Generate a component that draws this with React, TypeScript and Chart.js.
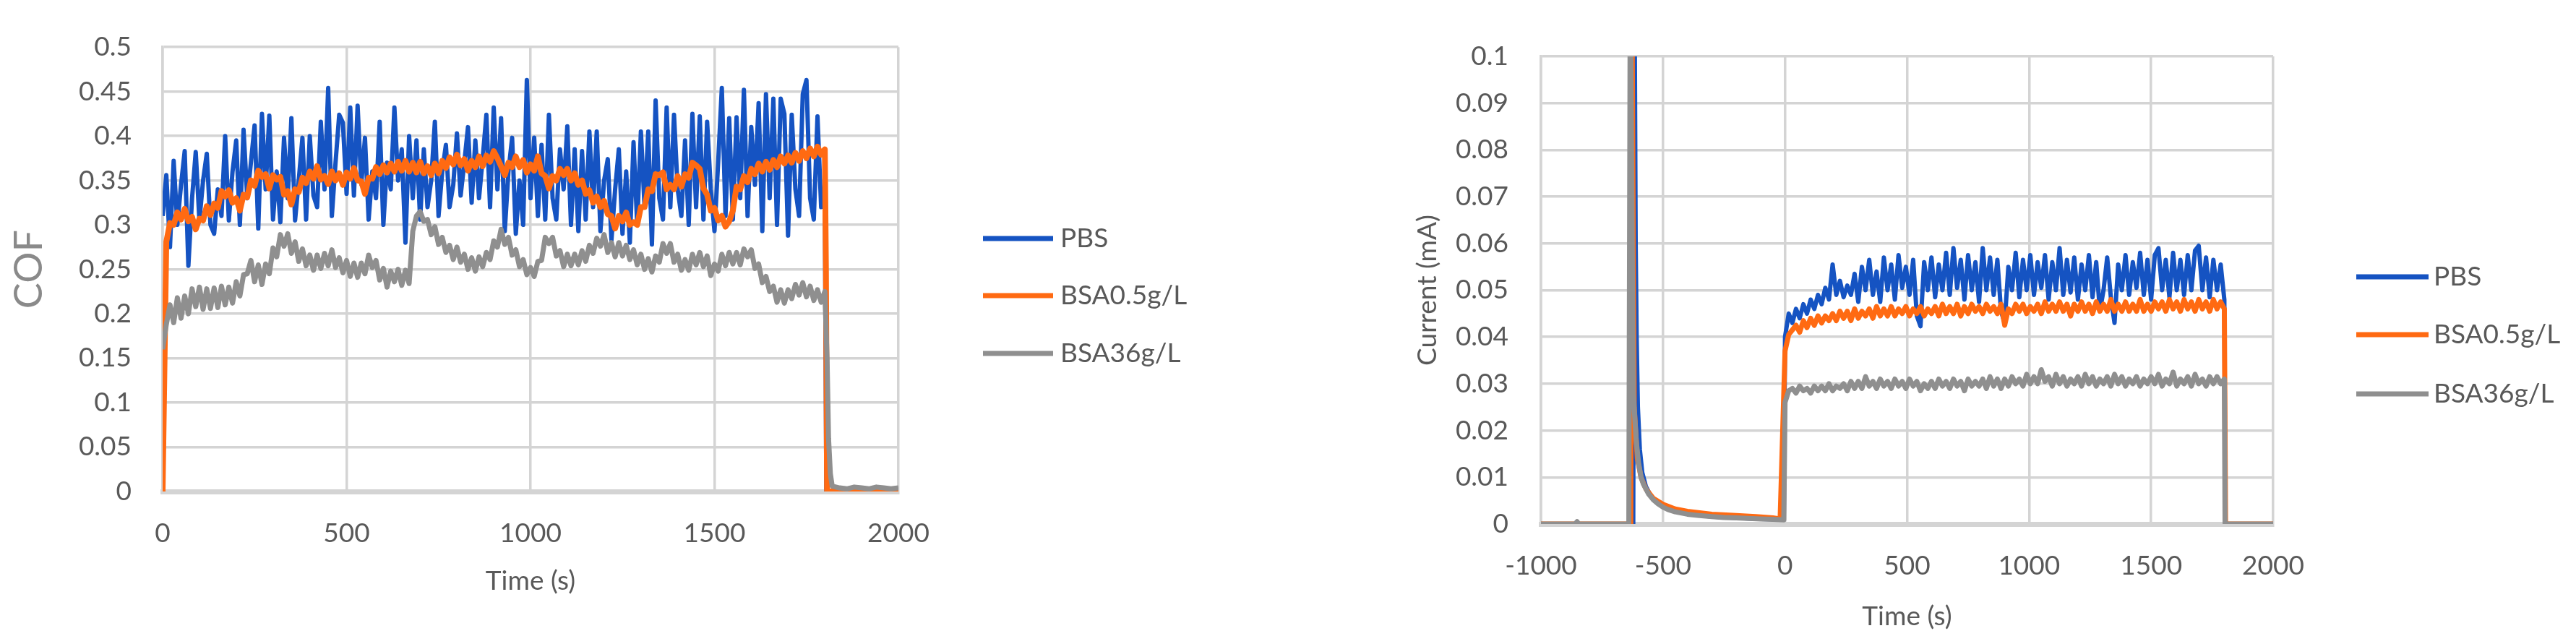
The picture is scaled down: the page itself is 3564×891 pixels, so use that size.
import React, { useEffect, useRef } from 'react';
import { Chart, registerables } from 'chart.js';

Chart.register(...registerables);

// ---------- shared ----------
const SERIES_LABELS = ['PBS', 'BSA0.5g/L', 'BSA36g/L'];
const SERIES_COLORS = ['#1553c2', '#ff6a12', '#8f8f8f'];

// ---------- left chart: COF vs time ----------
const COF_START = 0;
const COF_STEP = 10; // seconds between samples
const COF_X_TICKS = [0, 500, 1000, 1500, 2000];
const COF_X_LABELS = ['0', '500', '1000', '1500', '2000'];
const COF_Y_TICKS = [0, 0.05, 0.1, 0.15, 0.2, 0.25, 0.3, 0.35, 0.4, 0.45, 0.5];
const COF_Y_LABELS = ['0', '0.05', '0.1', '0.15', '0.2', '0.25', '0.3', '0.35', '0.4', '0.45', '0.5'];

const PBS_COF = [
  0.310, 0.356, 0.275, 0.372, 0.300, 0.345, 0.383, 0.254, 0.330, 0.382,
  0.305, 0.350, 0.380, 0.300, 0.290, 0.340, 0.310, 0.400, 0.305, 0.360,
  0.395, 0.300, 0.407, 0.330, 0.370, 0.412, 0.296, 0.425, 0.340, 0.423,
  0.306, 0.360, 0.303, 0.398, 0.330, 0.420, 0.305, 0.350, 0.398, 0.306,
  0.400, 0.333, 0.320, 0.416, 0.340, 0.454, 0.310, 0.370, 0.424, 0.415,
  0.335, 0.432, 0.333, 0.434, 0.346, 0.398, 0.306, 0.360, 0.330, 0.416,
  0.300, 0.370, 0.340, 0.432, 0.350, 0.385, 0.280, 0.400, 0.330, 0.395,
  0.306, 0.385, 0.320, 0.350, 0.416, 0.310, 0.360, 0.390, 0.320, 0.345,
  0.403, 0.333, 0.370, 0.410, 0.325, 0.395, 0.330, 0.375, 0.424, 0.320,
  0.432, 0.340, 0.420, 0.293, 0.360, 0.398, 0.290, 0.350, 0.300, 0.463,
  0.330, 0.398, 0.310, 0.390, 0.306, 0.424, 0.330, 0.306, 0.385, 0.340,
  0.411, 0.300, 0.385, 0.293, 0.383, 0.306, 0.405, 0.320, 0.405, 0.293,
  0.350, 0.374, 0.283, 0.340, 0.385, 0.290, 0.360, 0.280, 0.393, 0.300,
  0.405, 0.320, 0.405, 0.278, 0.440, 0.330, 0.306, 0.432, 0.320, 0.424,
  0.340, 0.310, 0.395, 0.300, 0.425, 0.320, 0.422, 0.306, 0.416, 0.340,
  0.293, 0.370, 0.454, 0.310, 0.420, 0.306, 0.421, 0.330, 0.452, 0.310,
  0.410, 0.345, 0.437, 0.293, 0.447, 0.330, 0.442, 0.300, 0.442, 0.425,
  0.288, 0.424, 0.340, 0.310, 0.447, 0.463, 0.330, 0.306, 0.422, 0.320,
  0.330,
];
const PBS_COF_TAIL_T = [1804, 2000];
const PBS_COF_TAIL = [0, 0];

const BSA05_COF = [
  0, 0.281, 0.302, 0.300, 0.314, 0.306, 0.318, 0.304, 0.309, 0.295,
  0.307, 0.305, 0.321, 0.311, 0.324, 0.319, 0.338, 0.332, 0.339, 0.325,
  0.330, 0.316, 0.334, 0.331, 0.350, 0.344, 0.361, 0.354, 0.357, 0.341,
  0.356, 0.351, 0.354, 0.334, 0.338, 0.323, 0.340, 0.337, 0.353, 0.347,
  0.360, 0.352, 0.366, 0.351, 0.355, 0.346, 0.360, 0.350, 0.358, 0.345,
  0.359, 0.352, 0.364, 0.350, 0.349, 0.335, 0.353, 0.352, 0.365, 0.357,
  0.367, 0.359, 0.369, 0.360, 0.371, 0.361, 0.372, 0.360, 0.370, 0.359,
  0.371, 0.358, 0.366, 0.356, 0.369, 0.358, 0.372, 0.364, 0.376, 0.368,
  0.379, 0.367, 0.374, 0.361, 0.372, 0.365, 0.377, 0.366, 0.378, 0.371,
  0.383, 0.375, 0.366, 0.356, 0.370, 0.365, 0.377, 0.365, 0.373, 0.359,
  0.368, 0.361, 0.377, 0.358, 0.355, 0.341, 0.355, 0.350, 0.363, 0.356,
  0.363, 0.350, 0.358, 0.345, 0.350, 0.335, 0.339, 0.325, 0.332, 0.320,
  0.327, 0.312, 0.310, 0.296, 0.310, 0.304, 0.314, 0.300, 0.303, 0.300,
  0.320, 0.320, 0.340, 0.338, 0.357, 0.356, 0.359, 0.340, 0.345, 0.340,
  0.355, 0.343, 0.357, 0.353, 0.370, 0.367, 0.363, 0.341, 0.334, 0.316,
  0.319, 0.305, 0.310, 0.298, 0.304, 0.316, 0.343, 0.340, 0.355, 0.348,
  0.363, 0.357, 0.369, 0.360, 0.371, 0.362, 0.373, 0.365, 0.377, 0.369,
  0.378, 0.370, 0.381, 0.372, 0.383, 0.375, 0.386, 0.377, 0.388, 0.379,
  0.385,
];
const BSA05_COF_TAIL_T = [1803, 1806, 2000];
const BSA05_COF_TAIL = [0.25, 0, 0];

const BSA36_COF = [
  0.160, 0.188, 0.210, 0.190, 0.218, 0.195, 0.220, 0.200, 0.228, 0.208,
  0.230, 0.205, 0.228, 0.206, 0.229, 0.207, 0.231, 0.210, 0.230, 0.212,
  0.236, 0.220, 0.244, 0.245, 0.260, 0.236, 0.255, 0.233, 0.256, 0.245,
  0.274, 0.264, 0.289, 0.276, 0.290, 0.268, 0.281, 0.259, 0.273, 0.254,
  0.266, 0.249, 0.266, 0.251, 0.268, 0.254, 0.272, 0.252, 0.263, 0.246,
  0.260, 0.242, 0.257, 0.241, 0.257, 0.245, 0.266, 0.252, 0.260, 0.238,
  0.251, 0.230, 0.248, 0.236, 0.250, 0.232, 0.249, 0.234, 0.293, 0.310,
  0.315, 0.304, 0.306, 0.289, 0.298, 0.278, 0.286, 0.269, 0.277, 0.261,
  0.275, 0.258, 0.267, 0.250, 0.263, 0.248, 0.264, 0.253, 0.269, 0.261,
  0.282, 0.275, 0.295, 0.278, 0.286, 0.266, 0.272, 0.253, 0.261, 0.244,
  0.252, 0.242, 0.259, 0.260, 0.286, 0.279, 0.286, 0.265, 0.271, 0.253,
  0.267, 0.254, 0.267, 0.255, 0.271, 0.259, 0.277, 0.268, 0.285, 0.276,
  0.289, 0.269, 0.280, 0.264, 0.280, 0.265, 0.277, 0.261, 0.272, 0.255,
  0.267, 0.250, 0.262, 0.247, 0.265, 0.258, 0.279, 0.268, 0.279, 0.258,
  0.267, 0.249, 0.261, 0.249, 0.267, 0.255, 0.269, 0.253, 0.265, 0.243,
  0.256, 0.248, 0.267, 0.254, 0.269, 0.256, 0.269, 0.255, 0.273, 0.264,
  0.272, 0.251, 0.256, 0.235, 0.242, 0.225, 0.231, 0.213, 0.227, 0.212,
  0.227, 0.217, 0.233, 0.221, 0.235, 0.219, 0.231, 0.215, 0.227, 0.213,
  0.225,
];
const BSA36_COF_TAIL_T = [1806, 1810, 1815, 1820, 1840, 1860, 1880, 1900, 1920, 1940, 1960, 1980, 2000];
const BSA36_COF_TAIL = [0.15, 0.06, 0.02, 0.006, 0.004, 0.003, 0.005, 0.004, 0.003, 0.005, 0.004, 0.003, 0.004];

// ---------- right chart: current vs time ----------
const CUR_START = 0;
const CUR_STEP = 15; // seconds between plateau samples
const CUR_X_TICKS = [-1000, -500, 0, 500, 1000, 1500, 2000];
const CUR_X_LABELS = ['-1000', '-500', '0', '500', '1000', '1500', '2000'];
const CUR_Y_TICKS = [0, 0.01, 0.02, 0.03, 0.04, 0.05, 0.06, 0.07, 0.08, 0.09, 0.1];
const CUR_Y_LABELS = ['0', '0.01', '0.02', '0.03', '0.04', '0.05', '0.06', '0.07', '0.08', '0.09', '0.1'];

const PBS_CUR_PRE_T = [-1000, -622, -617, -612, -608, -603, -595, -585, -570, -550, -520, -480, -440, -400, -300, -200, -100, -5];
const PBS_CUR_PRE = [0, 0, 0.12, 0.06, 0.04, 0.025, 0.016, 0.011, 0.008, 0.006, 0.0045, 0.0034, 0.0027, 0.0022, 0.0016, 0.0013, 0.0011, 0.0010];
const PBS_CUR = [
  0.040, 0.045, 0.043, 0.046, 0.044, 0.047, 0.045, 0.048, 0.046, 0.049,
  0.047, 0.0505, 0.048, 0.0555, 0.049, 0.052, 0.0485, 0.051, 0.049, 0.0535,
  0.0475, 0.055, 0.050, 0.0565, 0.049, 0.054, 0.0475, 0.057, 0.050, 0.0555,
  0.048, 0.0575, 0.0505, 0.055, 0.049, 0.0565, 0.0445, 0.0423, 0.056, 0.050,
  0.057, 0.0485, 0.0555, 0.050, 0.058, 0.049, 0.059, 0.0505, 0.0565, 0.048,
  0.0575, 0.050, 0.056, 0.0475, 0.059, 0.050, 0.057, 0.049, 0.0565, 0.0455,
  0.043, 0.055, 0.050, 0.058, 0.0485, 0.0565, 0.050, 0.0575, 0.049, 0.056,
  0.0505, 0.0575, 0.048, 0.056, 0.050, 0.059, 0.049, 0.0565, 0.0495, 0.057,
  0.048, 0.0555, 0.050, 0.0575, 0.0485, 0.056, 0.0455, 0.050, 0.057, 0.0485,
  0.043, 0.0555, 0.050, 0.0575, 0.049, 0.056, 0.0505, 0.058, 0.049, 0.0565,
  0.048, 0.0575, 0.059, 0.050, 0.0565, 0.0485, 0.058, 0.050, 0.0565, 0.049,
  0.0575, 0.050, 0.0585, 0.0595, 0.050, 0.057, 0.0485, 0.0565, 0.050, 0.0555,
  0.048,
];
const PBS_CUR_TAIL_T = [1804, 2000];
const PBS_CUR_TAIL = [0, 0];

const BSA05_CUR_PRE_T = [-1000, -632, -628, -618, -605, -590, -570, -540, -500, -450, -400, -300, -200, -120, -50, -20];
const BSA05_CUR_PRE = [0, 0, 0.12, 0.025, 0.014, 0.010, 0.0075, 0.0055, 0.0042, 0.0032, 0.0027, 0.0021, 0.0018, 0.0016, 0.0013, 0.0011];
const BSA05_CUR = [
  0.037, 0.0405, 0.0415, 0.0425, 0.041, 0.0435, 0.042, 0.044, 0.0425, 0.0445,
  0.043, 0.0445, 0.0435, 0.045, 0.0435, 0.0455, 0.044, 0.0455, 0.0435, 0.046,
  0.044, 0.0455, 0.0445, 0.046, 0.044, 0.0465, 0.0445, 0.046, 0.0445, 0.0465,
  0.0445, 0.046, 0.045, 0.0465, 0.0445, 0.046, 0.045, 0.0465, 0.0445, 0.046,
  0.045, 0.0465, 0.0445, 0.047, 0.045, 0.0465, 0.045, 0.047, 0.0445, 0.0465,
  0.045, 0.047, 0.0455, 0.0465, 0.045, 0.047, 0.0455, 0.0465, 0.045, 0.047,
  0.0425, 0.046, 0.045, 0.047, 0.0455, 0.047, 0.045, 0.0465, 0.0455, 0.047,
  0.045, 0.0475, 0.0455, 0.047, 0.0455, 0.0475, 0.0455, 0.047, 0.0445, 0.047,
  0.0455, 0.0475, 0.0455, 0.047, 0.045, 0.0475, 0.0455, 0.047, 0.0455, 0.048,
  0.0455, 0.047, 0.0455, 0.0475, 0.0455, 0.047, 0.0455, 0.048, 0.0455, 0.047,
  0.0455, 0.0475, 0.046, 0.0475, 0.0455, 0.048, 0.046, 0.0475, 0.0455, 0.048,
  0.046, 0.0475, 0.0455, 0.048, 0.046, 0.0475, 0.0455, 0.048, 0.046, 0.0475,
  0.046,
];
const BSA05_CUR_TAIL_T = [1805, 2000];
const BSA05_CUR_TAIL = [0, 0];

const BSA36_CUR_PRE_T = [-1000, -860, -852, -845, -640, -634, -622, -610, -600, -590, -580, -560, -540, -520, -500, -480, -450, -400, -350, -300, -250, -200, -150, -100, -50, -5];
const BSA36_CUR_PRE = [0, 0, 0.0005, 0, 0, 0.12, 0.028, 0.018, 0.013, 0.010, 0.0085, 0.0065, 0.0052, 0.0043, 0.0036, 0.0031, 0.0026, 0.0021, 0.0018, 0.0016, 0.0014, 0.0013, 0.0012, 0.0011, 0.0010, 0.0009];
const BSA36_CUR = [
  0.026, 0.0285, 0.029, 0.028, 0.0295, 0.0285, 0.029, 0.028, 0.0295, 0.0285,
  0.0295, 0.0285, 0.030, 0.0285, 0.0295, 0.029, 0.030, 0.0285, 0.0305, 0.029,
  0.0305, 0.029, 0.0315, 0.0295, 0.0305, 0.029, 0.031, 0.0295, 0.0305, 0.029,
  0.031, 0.0295, 0.0305, 0.029, 0.031, 0.0295, 0.0305, 0.0285, 0.030, 0.029,
  0.0305, 0.029, 0.031, 0.0295, 0.0305, 0.029, 0.031, 0.0295, 0.0305, 0.0285,
  0.031, 0.0295, 0.0305, 0.0295, 0.031, 0.029, 0.0315, 0.0295, 0.031, 0.029,
  0.031, 0.0295, 0.0315, 0.030, 0.031, 0.0295, 0.032, 0.030, 0.0315, 0.030,
  0.033, 0.0305, 0.0315, 0.0295, 0.032, 0.030, 0.0315, 0.0295, 0.031, 0.030,
  0.0315, 0.0295, 0.032, 0.030, 0.0315, 0.0295, 0.031, 0.030, 0.0315, 0.0295,
  0.032, 0.030, 0.0315, 0.0295, 0.031, 0.030, 0.0315, 0.0295, 0.031, 0.030,
  0.0315, 0.030, 0.032, 0.0295, 0.031, 0.030, 0.0325, 0.0295, 0.031, 0.030,
  0.0315, 0.0295, 0.032, 0.030, 0.031, 0.0295, 0.0315, 0.030, 0.0315, 0.030,
  0.031,
];
const BSA36_CUR_TAIL_T = [1803, 2000];
const BSA36_CUR_TAIL = [0, 0];

// ---------- style ----------
const FONT_FAMILY = "Lato, 'Open Sans', 'Liberation Sans', sans-serif";
const TEXT_COLOR = '#595959';
const GRID_COLOR = '#d4d4d4';

type Pt = { x: number; y: number };
const pairPoints = (ts: number[], vals: number[]): Pt[] => ts.map((x, i) => ({ x, y: vals[i] }));
const gridPoints = (start: number, step: number, vals: number[]): Pt[] =>
  vals.map((y, i) => ({ x: start + i * step, y }));

function makeLegendPlugin(cfg: { x0: number; x1: number; textX: number; ys: number[] }) {
  return {
    id: 'sideLegend',
    afterDraw(chart: any) {
      const ctx = chart.ctx as CanvasRenderingContext2D;
      ctx.save();
      chart.data.datasets.forEach((ds: any, i: number) => {
        const y = cfg.ys[i];
        ctx.strokeStyle = ds.borderColor;
        ctx.lineWidth = 7;
        ctx.lineCap = 'butt';
        ctx.beginPath();
        ctx.moveTo(cfg.x0, y);
        ctx.lineTo(cfg.x1, y);
        ctx.stroke();
        ctx.fillStyle = TEXT_COLOR;
        ctx.font = `37px ${FONT_FAMILY}`;
        ctx.textAlign = 'left';
        ctx.textBaseline = 'middle';
        ctx.fillText(ds.label, cfg.textX, y);
      });
      ctx.restore();
    },
  };
}

function dataset(i: number, data: Pt[], order: number, width: number) {
  return {
    label: SERIES_LABELS[i],
    data,
    borderColor: SERIES_COLORS[i],
    backgroundColor: SERIES_COLORS[i],
    borderWidth: width,
    pointRadius: 0,
    tension: 0,
    borderJoinStyle: 'round' as const,
    fill: false,
    order,
  };
}

function axisX(ticks: number[], labels: string[], min: number, max: number, height: number) {
  return {
    type: 'linear' as const,
    min,
    max,
    afterBuildTicks: (s: any) => {
      s.ticks = ticks.map((value) => ({ value }));
    },
    afterFit: (s: any) => {
      s.height = height;
    },
    ticks: {
      callback: (v: number) => labels[ticks.indexOf(v)] ?? String(v),
      font: { family: FONT_FAMILY, size: 37 },
      color: TEXT_COLOR,
      padding: 36,
      maxRotation: 0,
      autoSkip: false,
    },
    grid: { color: GRID_COLOR, lineWidth: 3.5, drawTicks: false },
    border: { color: GRID_COLOR, width: 7 },
    title: {
      display: true,
      text: 'Time (s)',
      font: { family: FONT_FAMILY, size: 37 },
      color: TEXT_COLOR,
      padding: { top: 0, bottom: 0 },
    },
  };
}

function axisY(ticks: number[], labels: string[], max: number, width: number, tickPad: number, title: string, titleSize: number, titleColor: string, titlePad: number) {
  return {
    min: 0,
    max,
    afterBuildTicks: (s: any) => {
      s.ticks = ticks.map((value) => ({ value }));
    },
    afterFit: (s: any) => {
      s.width = width;
    },
    ticks: {
      callback: (v: number) => labels[ticks.indexOf(v)] ?? String(v),
      font: { family: FONT_FAMILY, size: 37 },
      color: TEXT_COLOR,
      padding: tickPad,
    },
    grid: { color: GRID_COLOR, lineWidth: 3.5, drawTicks: false },
    border: { color: GRID_COLOR, width: 3.5 },
    title: {
      display: true,
      text: title,
      font: { family: FONT_FAMILY, size: titleSize },
      color: titleColor,
      padding: { top: titlePad, bottom: 0 },
    },
  };
}

export default function App() {
  const leftRef = useRef<HTMLCanvasElement>(null);
  const rightRef = useRef<HTMLCanvasElement>(null);

  useEffect(() => {
    const left = new Chart(leftRef.current as HTMLCanvasElement, {
      type: 'line',
      data: {
        datasets: [
          dataset(0, [...gridPoints(COF_START, COF_STEP, PBS_COF), ...pairPoints(PBS_COF_TAIL_T, PBS_COF_TAIL)], 3, 6),
          dataset(1, [...gridPoints(COF_START, COF_STEP, BSA05_COF), ...pairPoints(BSA05_COF_TAIL_T, BSA05_COF_TAIL)], 2, 8),
          dataset(2, [...gridPoints(COF_START, COF_STEP, BSA36_COF), ...pairPoints(BSA36_COF_TAIL_T, BSA36_COF_TAIL)], 1, 7),
        ],
      },
      options: {
        responsive: false,
        animation: false,
        devicePixelRatio: 1,
        layout: { padding: { left: 0, top: 42, right: 539, bottom: 65 } },
        plugins: { legend: { display: false }, tooltip: { enabled: false } },
        scales: {
          x: axisX(COF_X_TICKS, COF_X_LABELS, 0, 2000, 146),
          y: axisY(COF_Y_TICKS, COF_Y_LABELS, 0.5, 225, 43, 'COF', 54, '#8a8a8a', 8),
        },
      } as any,
      plugins: [makeLegendPlugin({ x0: 1360, x1: 1457, textX: 1467, ys: [330, 409, 489] })],
    });

    const right = new Chart(rightRef.current as HTMLCanvasElement, {
      type: 'line',
      data: {
        datasets: [
          dataset(0, [...pairPoints(PBS_CUR_PRE_T, PBS_CUR_PRE), ...gridPoints(CUR_START, CUR_STEP, PBS_CUR), ...pairPoints(PBS_CUR_TAIL_T, PBS_CUR_TAIL)], 3, 6),
          dataset(1, [...pairPoints(BSA05_CUR_PRE_T, BSA05_CUR_PRE), ...gridPoints(CUR_START, CUR_STEP, BSA05_CUR), ...pairPoints(BSA05_CUR_TAIL_T, BSA05_CUR_TAIL)], 2, 7),
          dataset(2, [...pairPoints(BSA36_CUR_PRE_T, BSA36_CUR_PRE), ...gridPoints(CUR_START, CUR_STEP, BSA36_CUR), ...pairPoints(BSA36_CUR_TAIL_T, BSA36_CUR_TAIL)], 1, 7),
        ],
      },
      options: {
        responsive: false,
        animation: false,
        devicePixelRatio: 1,
        layout: { padding: { left: 0, top: 78, right: 419, bottom: 16 } },
        plugins: { legend: { display: false }, tooltip: { enabled: false } },
        scales: {
          x: axisX(CUR_X_TICKS, CUR_X_LABELS, -1000, 2000, 150),
          y: axisY(CUR_Y_TICKS, CUR_Y_LABELS, 0.1, 350, 45, 'Current (mA)', 37, TEXT_COLOR, 171),
        },
      } as any,
      plugins: [makeLegendPlugin({ x0: 1478, x1: 1578, textX: 1585, ys: [383, 463, 545] })],
    });

    return () => {
      left.destroy();
      right.destroy();
    };
  }, []);

  return (
    <div style={{ position: 'absolute', left: 0, top: 0, width: 3564, height: 891, background: '#fff' }}>
      <canvas ref={leftRef} width={1782} height={891} style={{ position: 'absolute', left: 0, top: 0, width: 1782, height: 891 }} />
      <canvas ref={rightRef} width={1782} height={891} style={{ position: 'absolute', left: 1782, top: 0, width: 1782, height: 891 }} />
    </div>
  );
}
